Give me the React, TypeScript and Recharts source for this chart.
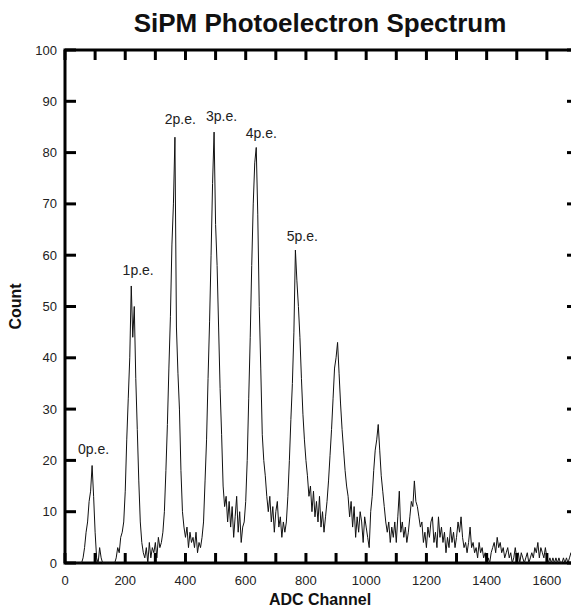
import { LineChart, Line, XAxis, YAxis, ReferenceDot, ReferenceArea, Label } from "recharts";

// histogram bins: one count every BIN channels, starting at channel 0
const BIN = 5;
const counts = [
  0, 0, 0, 0, 0, 0, 0, 0, 0, 0, 0, 0, 1, 3, 6, 8, 12, 14, 19, 13,
  6, 1, 0, 3, 1, 0, 0, 0, 0, 0, 0, 0, 0, 0, 1, 3, 2, 5, 6, 8,
  14, 24, 32, 40, 54, 44, 50, 36, 26, 16, 8, 4, 2, 1, 3, 0, 4, 1, 3, 2,
  4, 1, 5, 3, 4, 6, 10, 18, 27, 38, 48, 62, 70, 83, 46, 37, 30, 18, 10, 7,
  5, 7, 3, 6, 4, 5, 3, 6, 2, 4, 3, 5, 8, 16, 24, 36, 47, 60, 74, 84,
  66, 58, 46, 34, 25, 15, 11, 13, 8, 12, 7, 11, 5, 9, 13, 6, 10, 4, 7, 8,
  12, 20, 32, 44, 58, 70, 78, 81, 68, 50, 38, 25, 20, 17, 13, 10, 13, 8, 11, 6,
  10, 12, 7, 9, 5, 8, 6, 8, 13, 20, 28, 35, 45, 61, 55, 50, 44, 36, 29, 24,
  20, 17, 13, 15, 10, 14, 9, 12, 8, 13, 7, 10, 6, 9, 12, 16, 21, 26, 32, 38,
  40, 43, 37, 31, 26, 22, 18, 15, 13, 9, 12, 7, 11, 5, 9, 6, 10, 8, 4, 9,
  7, 5, 3, 10, 13, 18, 22, 24, 27, 22, 17, 14, 11, 8, 6, 8, 4, 7, 5, 8,
  4, 9, 14, 6, 8, 5, 7, 4, 6, 9, 12, 11, 16, 12, 11, 9, 7, 8, 4, 6,
  3, 7, 5, 8, 9, 4, 6, 3, 9, 5, 7, 4, 6, 2, 5, 3, 7, 4, 6, 3,
  5, 8, 6, 9, 5, 3, 4, 2, 4, 7, 3, 4, 2, 3, 1, 4, 2, 3, 1, 2,
  0, 1, 0, 2, 3, 4, 2, 5, 3, 4, 2, 3, 1, 2, 3, 1, 2, 0, 1, 3,
  1, 2, 0, 2, 1, 0, 1, 2, 0, 1, 2, 1, 3, 2, 4, 1, 3, 2, 1, 3,
  1, 0, 1, 0, 1, 0, 1, 0, 1, 0, 0, 1, 0, 1, 0, 1, 2, 1, 2, 1,
  2,
];

const xTicks = [0, 100, 200, 300, 400, 500, 600, 700, 800, 900, 1000, 1100, 1200, 1300, 1400, 1500, 1600];
const yTicks = [0, 10, 20, 30, 40, 50, 60, 70, 80, 90, 100];
const X_MAX = 1700;
const Y_MAX = 100;

const peakNames = ["0p.e.", "1p.e.", "2p.e.", "3p.e.", "4p.e.", "5p.e."];
const peakLabelChannel = [95, 243, 383, 520, 652, 788];
const peakLabelCount = [22.2, 57.1, 86.5, 87.1, 83.9, 63.8];

const data = counts.map((count, i) => ({ channel: i * BIN, count }));

const FONT = '"Liberation Sans", Arial, Helvetica, sans-serif';
const INK = "#111";
const W = 571;
const H = 601;
const PLOT_W = 512;
const PLOT_H = 513;

// ticks point inward on all four sides of the frame
function BottomTick(props: any) {
  const { x, y, payload } = props;
  const v = payload.value;
  return (
    <g>
      <line x1={x} y1={y} x2={x} y2={y - 10} stroke="#000" strokeWidth={3} />
      <line x1={x} y1={y - PLOT_H} x2={x} y2={y - PLOT_H + 10} stroke="#000" strokeWidth={3} />
      {v % 200 === 0 && (
        <text x={x} y={y + 22} textAnchor="middle" fontSize={13} fill="#222" fontFamily={FONT}>
          {v}
        </text>
      )}
    </g>
  );
}

function LeftTick(props: any) {
  const { x, y, payload } = props;
  return (
    <g>
      <line x1={x} y1={y} x2={x + 11} y2={y} stroke="#000" strokeWidth={3} />
      <line x1={x + PLOT_W} y1={y} x2={x + PLOT_W - 10} y2={y} stroke="#000" strokeWidth={3} />
      <text x={x - 8} y={y + 4.5} textAnchor="end" fontSize={13} fill="#222" fontFamily={FONT}>
        {payload.value}
      </text>
    </g>
  );
}

function TitleLabel(props: any) {
  const { x, y, width } = props.viewBox;
  return (
    <text x={x + width / 2 - 1} y={y - 18} textAnchor="middle" fontSize={26} fontWeight="bold" fill={INK} fontFamily={FONT}>
      SiPM Photoelectron Spectrum
    </text>
  );
}

function XTitle(props: any) {
  const { x, y, width } = props.viewBox;
  return (
    <text x={x + width / 2 - 1} y={y + 42} textAnchor="middle" fontSize={16} fontWeight="bold" fill={INK} fontFamily={FONT}>
      ADC Channel
    </text>
  );
}

function YTitle(props: any) {
  const { x, y, height } = props.viewBox;
  const cx = x + 13;
  const cy = y + height / 2;
  return (
    <text
      x={cx}
      y={cy}
      transform={`rotate(-90, ${cx}, ${cy})`}
      textAnchor="middle"
      fontSize={16}
      fontWeight="bold"
      fill={INK}
      fontFamily={FONT}
    >
      Count
    </text>
  );
}

export default function App() {
  return (
    <LineChart width={W} height={H} data={data} margin={{ top: 42, right: 2, bottom: 0, left: 0 }}>
      <XAxis
        dataKey="channel"
        type="number"
        domain={[0, X_MAX]}
        ticks={xTicks}
        interval={0}
        height={46}
        tickSize={0}
        tickMargin={0}
        tickLine={false}
        tick={BottomTick}
        axisLine={false}
      >
        <Label content={XTitle} />
      </XAxis>
      <YAxis
        type="number"
        domain={[0, Y_MAX]}
        ticks={yTicks}
        interval={0}
        width={57}
        tickSize={0}
        tickMargin={0}
        tickLine={false}
        tick={LeftTick}
        axisLine={false}
      >
        <Label content={YTitle} />
      </YAxis>
      <ReferenceArea
        x1={0}
        x2={X_MAX}
        y1={0}
        y2={Y_MAX}
        fill="none"
        stroke="#000"
        strokeWidth={3}
        ifOverflow="visible"
      >
        <Label content={TitleLabel} />
      </ReferenceArea>
      <Line
        type="linear"
        dataKey="count"
        stroke={INK}
        strokeWidth={1}
        dot={false}
        activeDot={false}
        isAnimationActive={false}
      />
      {peakNames.map((name, i) => (
        <ReferenceDot
          key={name}
          x={peakLabelChannel[i]}
          y={peakLabelCount[i]}
          r={0}
          fill="none"
          stroke="none"
          label={{ value: name, position: "center", fontSize: 14, fill: "#222", fontFamily: FONT }}
        />
      ))}
    </LineChart>
  );
}
